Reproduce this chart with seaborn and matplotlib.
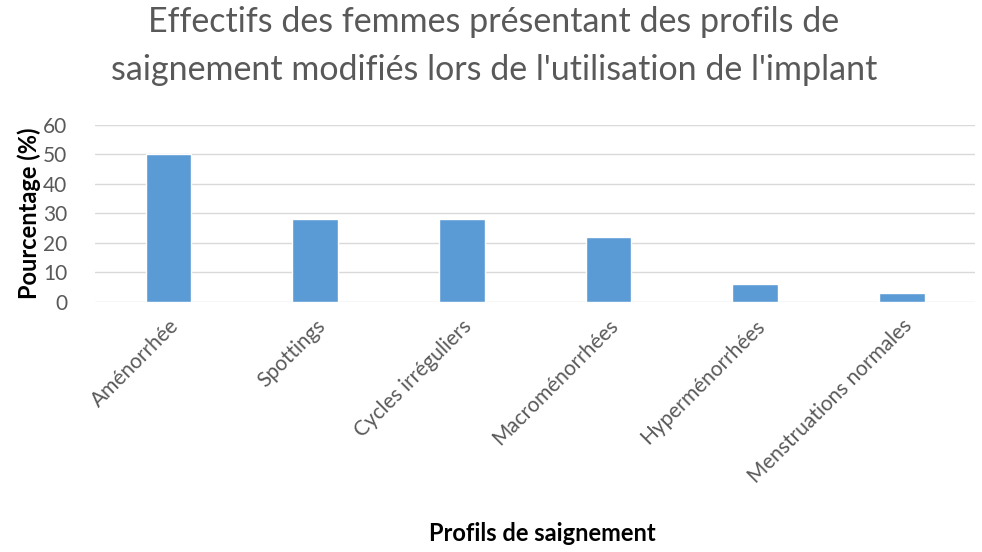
import matplotlib
matplotlib.use("Agg")
import matplotlib.pyplot as plt
import seaborn as sns
import pandas as pd

profils = ["Aménorrhée", "Spottings", "Cycles irréguliers", "Macroménorrhées",
           "Hyperménorrhées", "Menstruations normales"]
pourcentages = [50, 28, 28, 22, 6, 3]

sns.set_style("white")
plt.rcParams['font.family'] = ['Lato', 'DejaVu Sans']

df = pd.DataFrame({"profil": profils, "pct": pourcentages})

fig = plt.figure(figsize=(9.82, 5.52), dpi=100)
ax = fig.add_axes([0.097, 0.453, 0.896, 0.321])
sns.barplot(data=df, x="profil", y="pct", color="#5B9BD5", width=0.31,
            saturation=1, ax=ax)

ax.set_ylim(0, 60)
ax.set_yticks(range(0, 61, 10))
ax.yaxis.grid(True, color="#D9D9D9", linewidth=1)
ax.set_axisbelow(True)
for s in ax.spines.values():
    s.set_visible(False)
ax.tick_params(axis="both", length=0, colors="#595959", labelsize=15)
ax.tick_params(axis="y", pad=20)
ax.tick_params(axis="x", pad=10)
plt.setp(ax.get_xticklabels(), rotation=45, ha="right", rotation_mode="anchor")

ax.set_ylabel("Pourcentage (%)", fontsize=17, fontweight="bold", color="black")
ax.yaxis.set_label_coords(-0.062, 0.5)
ax.set_xlabel("Profils de saignement", fontsize=17, fontweight="bold", color="black")
ax.xaxis.set_label_coords(0.508, -1.24)

fig.suptitle("Effectifs des femmes présentant des profils de\n"
             "saignement modifiés lors de l'utilisation de l'implant",
             x=0.503, y=0.99, fontsize=24.5, color="#595959", linespacing=1.65)

fig.savefig("out.png", dpi=100)
